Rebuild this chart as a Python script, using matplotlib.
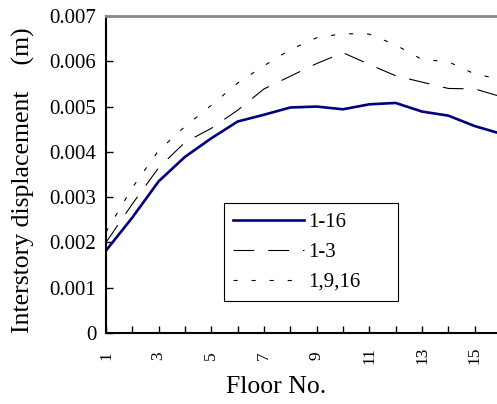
import matplotlib
matplotlib.use("Agg")
import matplotlib.pyplot as plt

# ---- data ----
floors = list(range(1, 17))
x_tick_labels = ["1", "", "3", "", "5", "", "7", "", "9", "", "11", "", "13", "", "15", ""]
y_ticks = [0, 0.001, 0.002, 0.003, 0.004, 0.005, 0.006, 0.007]
y_tick_labels = ["0", "0.001", "0.002", "0.003", "0.004", "0.005", "0.006", "0.007"]
series_names = ["1-16", "1-3", "1,9,16"]
d_1_16 = [1.82, 2.55, 3.35, 3.89, 4.30, 4.67, 4.82, 4.98, 5.00, 4.94, 5.05, 5.08, 4.89, 4.80, 4.57, 4.40]
d_1_3 = [2.00, 2.85, 3.65, 4.21, 4.52, 4.92, 5.39, 5.67, 5.95, 6.19, 5.93, 5.68, 5.54, 5.40, 5.39, 5.22]
d_1_9_16 = [2.23, 3.21, 4.03, 4.56, 5.03, 5.52, 5.90, 6.26, 6.52, 6.61, 6.60, 6.36, 6.04, 5.99, 5.72, 5.60]

plt.rcParams["font.family"] = ["Liberation Serif", "DejaVu Serif"]
plt.rcParams["lines.scale_dashes"] = False

W, H = 497, 404
fig = plt.figure(figsize=(W / 100, H / 100), dpi=100)
ax = fig.add_axes([106 / W, (H - 333) / H, (501 - 106) / W, (333 - 16) / H])

scale = 1e-3
ax.plot(floors, [v * scale for v in d_1_16], color="#000080", lw=1.9, label=series_names[0])
ax.plot(floors, [v * scale for v in d_1_3], color="black", lw=0.8, dashes=(15, 10), label=series_names[1])
ax.plot(floors, [v * scale for v in d_1_9_16], color="black", lw=0.8, dashes=(3, 10), label=series_names[2])

ax.set_xlim(1, 16)
ax.set_ylim(0, 0.007)
ax.set_xticks(floors)
ax.set_xticklabels(x_tick_labels, rotation=90, fontsize=12.5, va="center")
ax.set_yticks(y_ticks)
ax.set_yticklabels(y_tick_labels, fontsize=15)
ax.tick_params(axis="x", direction="in", length=5, width=1, pad=16)
ax.tick_params(axis="y", direction="in", length=5, width=1, pad=7)

for s in ["left", "bottom"]:
    ax.spines[s].set_linewidth(1.5)
    ax.spines[s].set_color("black")
ax.spines["top"].set_color("#888888")
ax.spines["top"].set_linewidth(2)
ax.spines["right"].set_visible(False)

ax.set_xlabel("Floor No.", fontsize=18.5)
ax.xaxis.set_label_coords((276 - 106) / 395, (333 - 376) / 317)
ax.set_ylabel("Interstory displacement    (m)", fontsize=18.5)
ax.yaxis.set_label_coords((35 - 106) / 395, 0.483)

leg = ax.legend(loc="upper left",
                bbox_to_anchor=(224 / W, 1 - 304 / H, (398 - 224) / W, (304 - 203) / H),
                bbox_transform=fig.transFigure, mode="expand",
                fontsize=15, frameon=True, fancybox=False, framealpha=1,
                borderaxespad=0, handlelength=3.4, handletextpad=0.2,
                labelspacing=0.5, borderpad=0.45)
leg.get_frame().set_edgecolor("black")
leg.get_frame().set_linewidth(0.8)

fig.savefig("out.png", dpi=100)
